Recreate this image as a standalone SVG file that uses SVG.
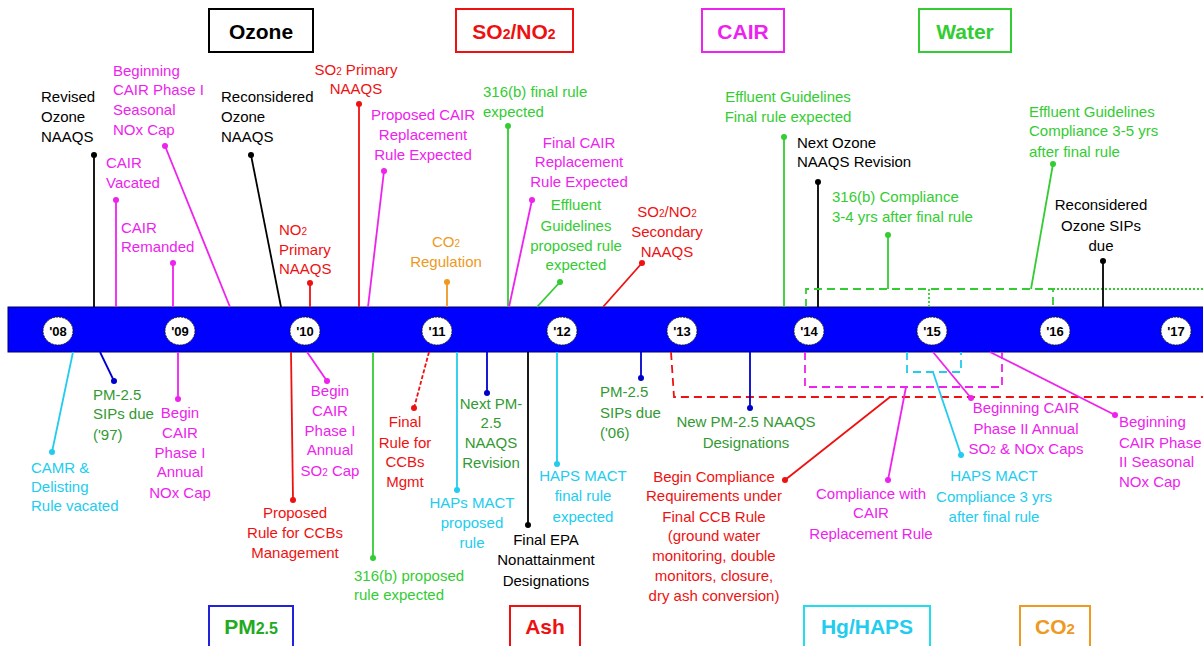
<svg xmlns="http://www.w3.org/2000/svg" width="1203" height="646" viewBox="0 0 1203 646">
<style>
text{font-family:"Liberation Sans",Arial,sans-serif;font-size:15px}
.c{text-anchor:middle}
.k{fill:#000}
.m{fill:#EE22EE}
.r{fill:#EE1111}
.g{fill:#33CC33}
.dg{fill:#339933}
.cy{fill:#22CCEE}
.o{fill:#EE9922}
.hd{font-size:21px;font-weight:bold;text-anchor:middle}
.yr{font-size:13px;font-weight:bold;text-anchor:middle;fill:#000}
.s{font-size:10px}
.ln{fill:none;stroke-width:1.8}
.lk{stroke:#000}.lm{stroke:#EE22EE}.lr{stroke:#EE1111}.lg{stroke:#33CC33}.lb{stroke:#0000CC}.lc{stroke:#22CCEE}.lo{stroke:#EE9922}
.dk{fill:#000}.dm{fill:#EE22EE}.dr{fill:#EE1111}.dgn{fill:#33CC33}.db{fill:#0000CC}.dc{fill:#22CCEE}.do{fill:#EE9922}
.dash{stroke-dasharray:8,5}
.dot{stroke-dasharray:2,2}
.box{fill:#fff;stroke-width:2}
</style>

<!-- Category boxes -->
<g id="hdr-ozone"><rect class="box" x="209" y="9" width="104" height="43" stroke="#000"/><text class="hd k" x="261" y="39">Ozone</text></g>
<g id="hdr-so2no2"><rect class="box" x="456" y="9" width="117" height="43" stroke="#EE1111"/><text class="hd r" x="514" y="39">SO<tspan font-size="14">2</tspan>/NO<tspan font-size="14">2</tspan></text></g>
<g id="hdr-cair"><rect class="box" x="702" y="9" width="82" height="43" stroke="#EE22EE"/><text class="hd m" x="743" y="39">CAIR</text></g>
<g id="hdr-water"><rect class="box" x="919" y="9" width="92" height="43" stroke="#33CC33"/><text class="hd g" x="965" y="39">Water</text></g>
<g id="hdr-pm25"><rect class="box" x="209" y="606" width="84" height="46" stroke="#2222DD"/><text class="hd" x="251" y="634" fill="#22AA22">PM<tspan font-size="16">2.5</tspan></text></g>
<g id="hdr-ash"><rect class="box" x="510" y="606" width="70" height="46" stroke="#EE1111"/><text class="hd r" x="545" y="634">Ash</text></g>
<g id="hdr-hg"><rect class="box" x="804" y="606" width="126" height="46" stroke="#22DDEE"/><text class="hd cy" x="867" y="634">Hg/HAPS</text></g>
<g id="hdr-co2"><rect class="box" x="1020" y="606" width="70" height="46" stroke="#EE9922"/><text class="hd o" x="1055" y="634">CO<tspan font-size="15">2</tspan></text></g>

<!-- Timeline bar -->
<g id="timeline">
<rect x="8" y="307" width="1200" height="45" fill="#0000FF" stroke="#000066" stroke-width="1"/>
<g stroke="#222" stroke-width="1" stroke-dasharray="2,1" fill="#fff">
<ellipse cx="58" cy="331" rx="15" ry="14"/><ellipse cx="180" cy="331" rx="15" ry="14"/><ellipse cx="305" cy="331" rx="15" ry="14"/><ellipse cx="437" cy="331" rx="15" ry="14"/><ellipse cx="562" cy="331" rx="15" ry="14"/><ellipse cx="682" cy="331" rx="15" ry="14"/><ellipse cx="809" cy="331" rx="15" ry="14"/><ellipse cx="932" cy="331" rx="15" ry="14"/><ellipse cx="1055" cy="331" rx="15" ry="14"/><ellipse cx="1176" cy="331" rx="15" ry="14"/>
</g>
<text class="yr" x="58" y="336">'08</text><text class="yr" x="180" y="336">'09</text><text class="yr" x="305" y="336">'10</text><text class="yr" x="437" y="336">'11</text><text class="yr" x="562" y="336">'12</text><text class="yr" x="682" y="336">'13</text><text class="yr" x="809" y="336">'14</text><text class="yr" x="932" y="336">'15</text><text class="yr" x="1055" y="336">'16</text><text class="yr" x="1176" y="336">'17</text>
</g>

<!-- Connectors -->
<g id="connectors">
<line class="ln lk" x1="94" y1="155" x2="94" y2="307"/><circle class="dk" cx="94" cy="155" r="3"/>
<line class="ln lm" x1="165" y1="146" x2="230" y2="307"/><circle class="dm" cx="165" cy="146" r="3"/>
<line class="ln lm" x1="116" y1="200" x2="116" y2="307"/><circle class="dm" cx="116" cy="200" r="3"/>
<line class="ln lm" x1="173" y1="263" x2="173" y2="307"/><circle class="dm" cx="173" cy="263" r="3"/>
<line class="ln lk" x1="251" y1="155" x2="281" y2="307"/><circle class="dk" cx="251" cy="155" r="3"/>
<line class="ln lr" x1="310" y1="283" x2="310" y2="307"/><circle class="dr" cx="310" cy="283" r="3"/>
<line class="ln lr" x1="359" y1="104" x2="359" y2="307"/><circle class="dr" cx="359" cy="104" r="3"/>
<line class="ln lm" x1="384" y1="171" x2="368" y2="307"/><circle class="dm" cx="384" cy="171" r="3"/>
<line class="ln lo" x1="447" y1="282" x2="447" y2="307"/><circle class="do" cx="447" cy="282" r="3"/>
<line class="ln lg" x1="508" y1="126" x2="508" y2="307"/><circle class="dgn" cx="508" cy="126" r="3"/>
<line class="ln lm" x1="532" y1="200" x2="509" y2="307"/><circle class="dm" cx="532" cy="200" r="3"/>
<line class="ln lg" x1="560" y1="282" x2="537" y2="307"/><circle class="dgn" cx="560" cy="282" r="3"/>
<line class="ln lr" x1="642" y1="263" x2="603" y2="307"/><circle class="dr" cx="642" cy="263" r="3"/>
<line class="ln lg" x1="784" y1="137" x2="784" y2="307"/><circle class="dgn" cx="784" cy="137" r="3"/>
<line class="ln lk" x1="818" y1="182" x2="818" y2="307"/><circle class="dk" cx="818" cy="182" r="3"/>
<line class="ln lg" x1="888" y1="235" x2="888" y2="289"/><circle class="dgn" cx="888" cy="235" r="3"/>
<path class="ln lg dash" d="M806,307 V289 H1053 V307"/>
<line class="ln lg dot" x1="929" y1="289" x2="929" y2="307" stroke-width="1.2"/>
<line class="ln lg dot" x1="1053" y1="289" x2="1203" y2="289" stroke-width="1.2"/>
<line class="ln lg" x1="1053" y1="164" x2="1031" y2="289"/><circle class="dgn" cx="1053" cy="164" r="3"/>
<line class="ln lk" x1="1103" y1="261" x2="1103" y2="307"/><circle class="dk" cx="1103" cy="261" r="3"/>

<line class="ln lc" x1="73" y1="352" x2="52" y2="452"/><circle class="dc" cx="52" cy="452" r="3"/>
<line class="ln lb" x1="100" y1="352" x2="114" y2="381"/><circle class="db" cx="114" cy="381" r="3"/>
<line class="ln lm" x1="178" y1="352" x2="178" y2="399"/><circle class="dm" cx="178" cy="399" r="3"/>
<line class="ln lr" x1="291" y1="352" x2="293" y2="500"/><circle class="dr" cx="293" cy="500" r="3"/>
<line class="ln lm" x1="307" y1="352" x2="327" y2="381"/><circle class="dm" cx="327" cy="381" r="3"/>
<line class="ln lg" x1="373" y1="352" x2="373" y2="558"/><circle class="dgn" cx="373" cy="558" r="3"/>
<line class="ln lr" x1="429" y1="352" x2="414" y2="408" stroke-dasharray="4,2"/><circle class="dr" cx="414" cy="408" r="3"/>
<line class="ln lc" x1="457" y1="352" x2="457" y2="490"/><circle class="dc" cx="457" cy="490" r="3"/>
<line class="ln lb" x1="487" y1="352" x2="487" y2="393"/><circle class="db" cx="487" cy="393" r="3"/>
<line class="ln lk" x1="528" y1="352" x2="528" y2="525"/><circle class="dk" cx="528" cy="525" r="3"/>
<line class="ln lc" x1="557" y1="352" x2="557" y2="464"/><circle class="dc" cx="557" cy="464" r="3"/>
<line class="ln lb" x1="641" y1="352" x2="641" y2="378"/><circle class="db" cx="641" cy="378" r="3"/>
<path class="ln lr dash" d="M671,352 L674,397 H1203"/>
<line class="ln lb" x1="750" y1="352" x2="750" y2="408"/><circle class="db" cx="750" cy="408" r="3"/>
<line class="ln lr" x1="785" y1="480" x2="890" y2="397" stroke-width="1.3"/><circle class="dr" cx="785" cy="480" r="3"/>
<path class="ln lm dash" d="M805,352 V387 H1002 V352"/>
<path class="ln lc dash" d="M907,352 V372 H961 V352"/>
<line class="ln lm" x1="888" y1="480" x2="906" y2="387"/><circle class="dm" cx="888" cy="480" r="3"/>
<line class="ln lc" x1="961" y1="455" x2="933" y2="372"/><circle class="dc" cx="961" cy="455" r="3"/>
<line class="ln lm" x1="933" y1="352" x2="971" y2="398"/><circle class="dm" cx="971" cy="398" r="3"/>
<line class="ln lm" x1="990" y1="352" x2="1115" y2="415"/><circle class="dm" cx="1115" cy="415" r="3"/>
</g>

<!-- Top labels -->
<g id="n-revised-ozone" class="k"><text x="41" y="102">Revised</text><text x="41" y="122">Ozone</text><text x="41" y="142">NAAQS</text></g>
<g id="n-cair-phase1-seasonal" class="m"><text x="113" y="76">Beginning</text><text x="113" y="95">CAIR Phase I</text><text x="113" y="115">Seasonal</text><text x="113" y="135">NOx Cap</text></g>
<g id="n-cair-vacated" class="m"><text x="106" y="168">CAIR</text><text x="106" y="188">Vacated</text></g>
<g id="n-cair-remanded" class="m"><text x="121" y="233">CAIR</text><text x="121" y="252">Remanded</text></g>
<g id="n-reconsidered-ozone" class="k"><text x="221" y="102">Reconsidered</text><text x="221" y="122">Ozone</text><text x="221" y="142">NAAQS</text></g>
<g id="n-no2-primary" class="r"><text x="279" y="235">NO<tspan class="s">2</tspan></text><text x="279" y="255">Primary</text><text x="279" y="274">NAAQS</text></g>
<g id="n-so2-primary" class="r c"><text x="356" y="75">SO<tspan class="s">2</tspan> Primary</text><text x="356" y="94">NAAQS</text></g>
<g id="n-proposed-cair-repl" class="m c"><text x="423" y="120">Proposed CAIR</text><text x="423" y="140">Replacement</text><text x="423" y="160">Rule Expected</text></g>
<g id="n-co2-reg" class="o c"><text x="446" y="247">CO<tspan class="s">2</tspan></text><text x="446" y="267">Regulation</text></g>
<g id="n-316b-final" class="g"><text x="483" y="97">316(b) final rule</text><text x="483" y="117">expected</text></g>
<g id="n-final-cair-repl" class="m c"><text x="579" y="148">Final CAIR</text><text x="579" y="167">Replacement</text><text x="579" y="187">Rule Expected</text></g>
<g id="n-effluent-proposed" class="g c"><text x="576" y="210">Effluent</text><text x="576" y="231">Guidelines</text><text x="576" y="251">proposed rule</text><text x="576" y="270">expected</text></g>
<g id="n-so2no2-secondary" class="r c"><text x="667" y="217">SO<tspan class="s">2</tspan>/NO<tspan class="s">2</tspan></text><text x="667" y="237">Secondary</text><text x="667" y="257">NAAQS</text></g>
<g id="n-effluent-final" class="g c"><text x="788" y="102">Effluent Guidelines</text><text x="788" y="122">Final rule expected</text></g>
<g id="n-next-ozone" class="k"><text x="797" y="148">Next Ozone</text><text x="797" y="167">NAAQS Revision</text></g>
<g id="n-316b-compliance" class="g"><text x="832" y="202">316(b) Compliance</text><text x="832" y="222">3-4 yrs after final rule</text></g>
<g id="n-effluent-compliance" class="g"><text x="1029" y="117">Effluent Guidelines</text><text x="1029" y="136">Compliance 3-5 yrs</text><text x="1029" y="157">after final rule</text></g>
<g id="n-ozone-sips" class="k c"><text x="1101" y="210">Reconsidered</text><text x="1101" y="231">Ozone SIPs</text><text x="1101" y="251">due</text></g>

<!-- Bottom labels -->
<g id="n-camr" class="cy"><text x="31" y="473">CAMR &amp;</text><text x="31" y="492">Delisting</text><text x="31" y="511">Rule vacated</text></g>
<g id="n-pm25-sips97" class="dg"><text x="93" y="400">PM-2.5</text><text x="93" y="419">SIPs due</text><text x="93" y="440">('97)</text></g>
<g id="n-cair-phase1-nox" class="m c"><text x="180" y="418">Begin</text><text x="180" y="438">CAIR</text><text x="180" y="458">Phase I</text><text x="180" y="477">Annual</text><text x="180" y="498">NOx Cap</text></g>
<g id="n-proposed-ccb" class="r c"><text x="295" y="518">Proposed</text><text x="295" y="538">Rule for CCBs</text><text x="295" y="558">Management</text></g>
<g id="n-cair-phase1-so2" class="m c"><text x="330" y="396">Begin</text><text x="330" y="416">CAIR</text><text x="330" y="436">Phase I</text><text x="330" y="455">Annual</text><text x="330" y="476">SO<tspan class="s">2</tspan> Cap</text></g>
<g id="n-316b-proposed" class="g"><text x="354" y="581">316(b) proposed</text><text x="354" y="600">rule expected</text></g>
<g id="n-final-ccb" class="r c"><text x="405" y="427">Final</text><text x="405" y="448">Rule for</text><text x="405" y="467">CCBs</text><text x="405" y="487">Mgmt</text></g>
<g id="n-haps-proposed" class="cy c"><text x="472" y="508">HAPs MACT</text><text x="472" y="528">proposed</text><text x="472" y="548">rule</text></g>
<g id="n-next-pm25" class="dg c"><text x="491" y="409">Next PM-</text><text x="491" y="428">2.5</text><text x="491" y="448">NAAQS</text><text x="491" y="468">Revision</text></g>
<g id="n-final-epa" class="k c"><text x="546" y="545">Final EPA</text><text x="546" y="565">Nonattainment</text><text x="546" y="586">Designations</text></g>
<g id="n-haps-final" class="cy c"><text x="583" y="481">HAPS MACT</text><text x="583" y="501">final rule</text><text x="583" y="522">expected</text></g>
<g id="n-pm25-sips06" class="dg"><text x="600" y="397">PM-2.5</text><text x="600" y="418">SIPs due</text><text x="600" y="438">('06)</text></g>
<g id="n-new-pm25" class="dg c"><text x="746" y="427">New PM-2.5 NAAQS</text><text x="746" y="448">Designations</text></g>
<g id="n-ccb-compliance" class="r c"><text x="714" y="482">Begin Compliance</text><text x="714" y="501">Requirements under</text><text x="714" y="522">Final CCB Rule</text><text x="714" y="541">(ground water</text><text x="714" y="561">monitoring, double</text><text x="714" y="581">monitors, closure,</text><text x="714" y="601">dry ash conversion)</text></g>
<g id="n-cair-repl-compliance" class="m c"><text x="871" y="499">Compliance with</text><text x="871" y="518">CAIR</text><text x="871" y="539">Replacement Rule</text></g>
<g id="n-haps-compliance" class="cy c"><text x="994" y="481">HAPS MACT</text><text x="994" y="502">Compliance 3 yrs</text><text x="994" y="522">after final rule</text></g>
<g id="n-cair-phase2-annual" class="m c"><text x="1026" y="413">Beginning CAIR</text><text x="1026" y="434">Phase II Annual</text><text x="1026" y="454">SO<tspan class="s">2</tspan> &amp; NOx Caps</text></g>
<g id="n-cair-phase2-seasonal" class="m"><text x="1119" y="427">Beginning</text><text x="1119" y="448">CAIR Phase</text><text x="1119" y="467">II Seasonal</text><text x="1119" y="487">NOx Cap</text></g>
</svg>
